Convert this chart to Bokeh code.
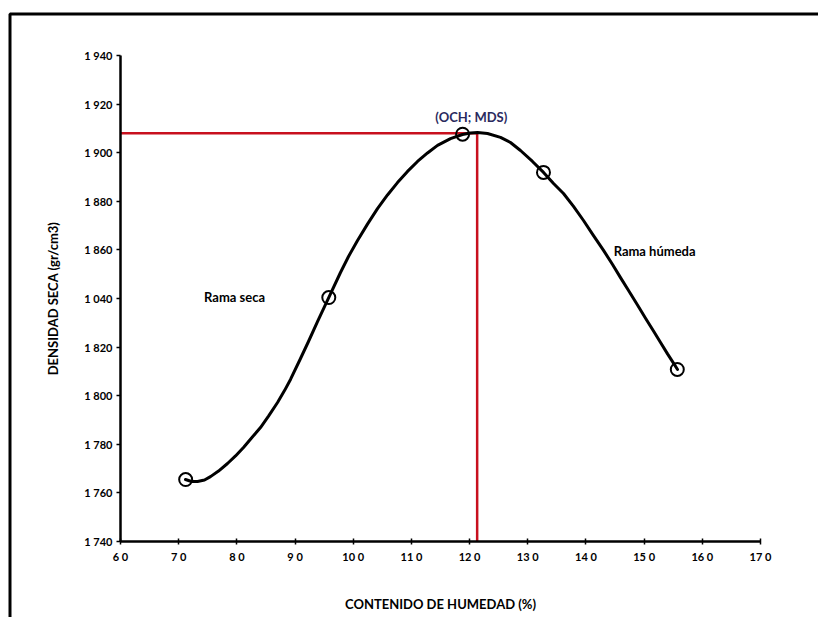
from bokeh.plotting import figure
from bokeh.models import LinearAxis, FixedTicker, BoxAnnotation, Label, Range1d
from bokeh.embed import file_html
from bokeh.resources import INLINE

# ---- data ----
humedad = [71.2, 95.8, 118.8, 132.7, 155.7]          # contenido de humedad
densidad = [1765.5, 1840.4, 1907.6, 1891.9, 1810.8]  # densidad seca

# points of the drawn compaction curve
curva_x = [71.17, 72.20, 73.24, 74.44, 75.47, 76.85, 78.39, 79.77, 81.14, 82.52,
           84.06, 85.44, 86.99, 88.19, 89.22, 90.94, 92.31, 93.86, 95.75, 97.81,
           99.19, 100.74, 102.45, 104.17, 105.89, 107.61, 109.33, 111.05, 112.77,
           114.49, 116.72, 118.78, 120.16, 121.36, 123.08, 125.31, 127.03, 128.75,
           130.81, 132.71, 134.43, 136.14, 137.86, 139.58, 141.30, 143.02, 144.57,
           145.94, 147.32, 148.86, 150.24, 151.61, 152.82, 154.02, 154.88, 155.74]
curva_y = [1765.5, 1764.7, 1764.7, 1765.3, 1766.7, 1769.0, 1772.1, 1775.2, 1778.7,
           1782.6, 1786.9, 1791.6, 1797.2, 1802.1, 1806.7, 1815.3, 1822.3, 1830.5,
           1840.2, 1850.7, 1857.3, 1863.9, 1870.6, 1877.0, 1882.6, 1887.7, 1892.3,
           1896.4, 1899.9, 1903.0, 1905.8, 1907.5, 1908.1, 1908.3, 1907.9, 1906.3,
           1904.2, 1900.9, 1896.4, 1891.9, 1887.3, 1883.2, 1877.9, 1872.1, 1865.9,
           1859.8, 1854.0, 1848.6, 1843.3, 1837.3, 1831.9, 1826.6, 1821.9, 1817.2,
           1814.0, 1810.8]

och = 121.3
mds = 1908.0

x_ticks = [60, 70, 80, 90, 100, 110, 120, 130, 140, 150, 160, 170]
x_labels = ["6 0", "7 0", "8 0", "9 0", "10 0", "11 0", "12 0", "13 0", "14 0", "15 0", "16 0", "17 0"]
y_ticks = [1740, 1760, 1780, 1800, 1820, 1840, 1860, 1880, 1900, 1920, 1940]
y_labels = ["1 740", "1 760", "1 780", "1 800", "1 820", "1 040", "1 860", "1 880", "1 900", "1 920", "1 940"]

# ---- layout ----
W, H = 818, 617
sx = 640 / 110.0    # px per unit x
sy = 486 / 200.0    # px per unit y
x0 = 60 - 120 / sx
x1 = x0 + W / sx
y1 = 1940 + 55 / sy
y0 = y1 - H / sy

FONT = "Lato"

p = figure(width=W, height=H, x_range=Range1d(x0, x1), y_range=Range1d(y0, y1),
           x_axis_type=None, y_axis_type=None, toolbar_location=None,
           output_backend="svg", min_border=0)
p.outline_line_color = None
p.background_fill_color = "white"
p.border_fill_color = "white"

def style_axis(ax):
    ax.axis_line_color = "black"
    ax.axis_line_width = 2.5
    ax.major_tick_line_color = "black"
    ax.major_tick_line_width = 1.5
    ax.minor_tick_line_color = None
    ax.major_label_text_font = FONT
    ax.major_label_text_font_style = "bold"
    ax.major_label_text_font_size = "11px"
    ax.major_label_text_color = "black"
    ax.axis_label_text_font = FONT
    ax.axis_label_text_font_style = "bold"
    ax.axis_label_text_font_size = "13px"
    ax.axis_label_text_color = "black"

xaxis = LinearAxis(fixed_location=1740, bounds=(60, 170),
                   ticker=FixedTicker(ticks=x_ticks),
                   major_label_overrides={t: l for t, l in zip(x_ticks, x_labels)},
                   axis_label="CONTENIDO DE HUMEDAD (%)")
style_axis(xaxis)
xaxis.major_tick_in = 3
xaxis.major_tick_out = 3
xaxis.major_label_standoff = 5
xaxis.axis_label_standoff = 30
p.add_layout(xaxis, "below")

yaxis = LinearAxis(fixed_location=60, bounds=(1740, 1940),
                   ticker=FixedTicker(ticks=y_ticks),
                   major_label_overrides={t: l for t, l in zip(y_ticks, y_labels)},
                   axis_label="DENSIDAD SECA (gr/cm3)")
style_axis(yaxis)
yaxis.major_tick_in = 0
yaxis.major_tick_out = 4
yaxis.major_label_standoff = 4
yaxis.axis_label_standoff = 20
p.add_layout(yaxis, "left")

# outer frame (top and left edges visible)
p.add_layout(BoxAnnotation(left=x0 + 9.5 / sx, right=x1 + 30, top=y1 - 13.5 / sy, bottom=y0 - 30,
                           fill_color=None, fill_alpha=0, line_color="black",
                           line_alpha=1.0, line_width=3))

# red reference lines
red = "#c8101e"
p.segment(x0=[60], y0=[mds], x1=[och], y1=[mds], line_color=red, line_width=2.5)
p.segment(x0=[och], y0=[1740], x1=[och], y1=[mds], line_color=red, line_width=2.5)

# compaction curve
p.line(curva_x, curva_y, line_color="black", line_width=3, line_join="round", line_cap="round")
p.scatter(humedad, densidad, marker="circle", size=13, fill_color=None,
          line_color="black", line_width=2)

p.add_layout(Label(x=och - 1.0, y=mds + 6.5, text="(OCH; MDS)", text_align="center",
                   text_baseline="middle", text_font=FONT, text_font_style="bold",
                   text_font_size="13px", text_color="#2a2a5e"))
p.add_layout(Label(x=79.6, y=1840.8, text="Rama seca", text_align="center",
                   text_baseline="middle", text_font=FONT, text_font_style="bold",
                   text_font_size="13px", text_color="black"))
p.add_layout(Label(x=151.8, y=1859.7, text="Rama húmeda", text_align="center",
                   text_baseline="middle", text_font=FONT, text_font_style="bold",
                   text_font_size="13px", text_color="black"))

open("out.html", "w").write(file_html(p, INLINE))
